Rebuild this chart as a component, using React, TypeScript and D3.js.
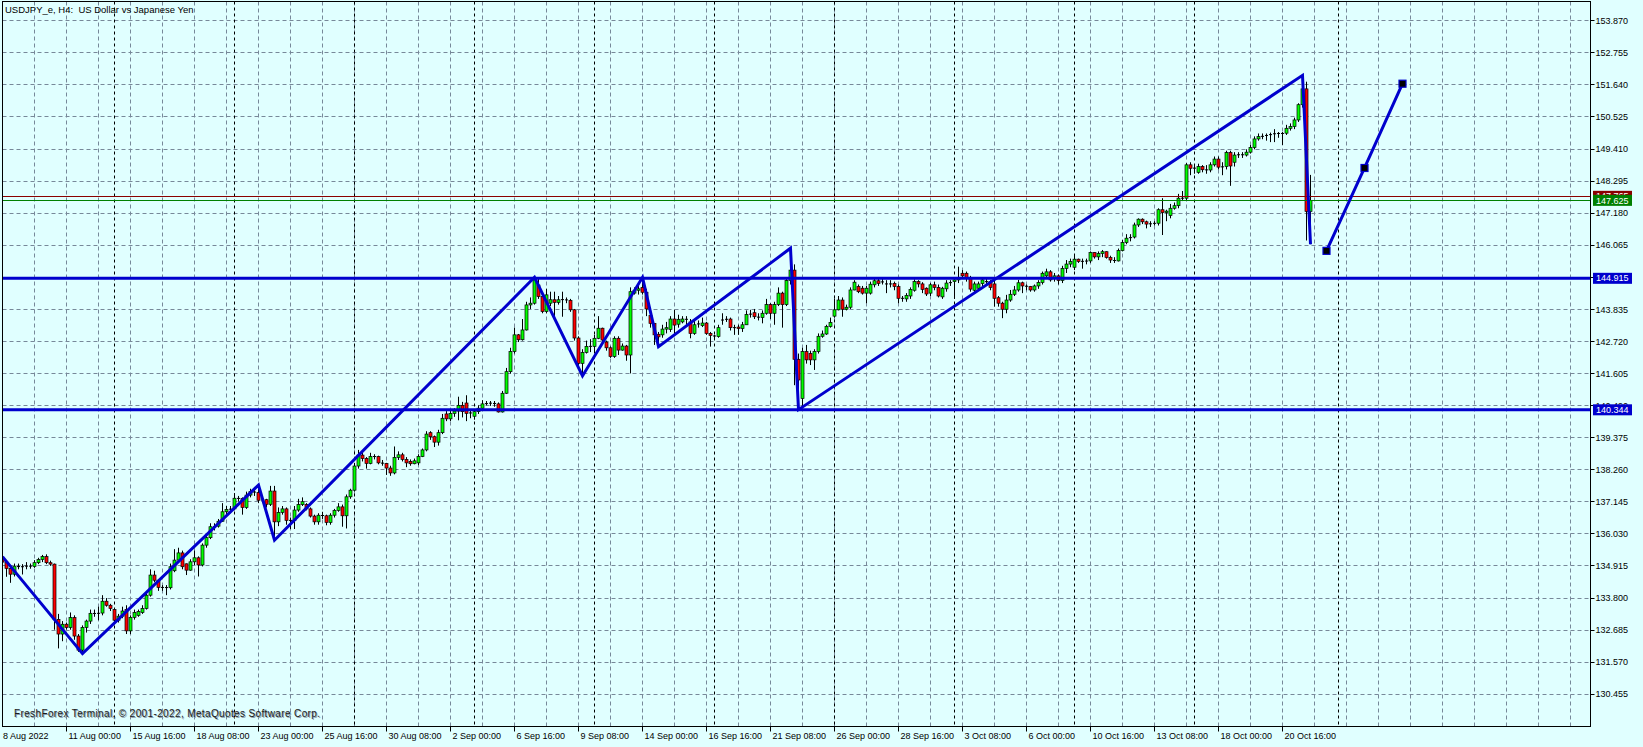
import * as d3 from 'd3';

const W = 1643;
const H = 747;

// USDJPY_e H4 candles, one array per trading week: [open, high, low, close]
const wk0808 = [
  [135.15, 135.24, 134.95, 135.05], [135.05, 135.12, 134.54, 134.83], [134.83, 134.92, 134.33, 134.63],
  [134.63, 135.0, 134.55, 134.91], [134.91, 135.0, 134.8, 134.88], [134.88, 134.98, 134.62, 134.9],
  [134.9, 135.05, 134.8, 134.92], [134.92, 135.0, 134.82, 134.9], [134.9, 135.12, 134.85, 135.03],
  [135.03, 135.2, 134.98, 135.14], [135.14, 135.3, 135.05, 135.24], [135.24, 135.32, 134.98, 135.03],
  [135.03, 135.1, 134.92, 134.98], [134.98, 135.0, 132.7, 133.06], [133.06, 133.25, 132.05, 132.55],
  [132.55, 133.0, 132.3, 132.89], [132.89, 132.95, 132.7, 132.78], [132.78, 133.3, 132.7, 133.12],
  [133.12, 133.2, 132.35, 132.48], [132.48, 132.55, 131.93, 131.99], [131.99, 132.85, 131.87, 132.78],
  [132.78, 133.05, 132.6, 133.0], [133.0, 133.4, 132.9, 133.27], [133.27, 133.4, 133.15, 133.26],
  [133.26, 133.5, 133.03, 133.28], [133.28, 133.9, 133.2, 133.69], [133.69, 133.8, 133.5, 133.55],
  [133.55, 133.6, 133.35, 133.44],
];
const wk0815 = [
  [133.4, 133.45, 132.95, 133.03], [133.03, 133.25, 132.95, 133.17], [133.17, 133.5, 133.1, 133.35],
  [133.4, 133.55, 132.55, 132.66], [132.66, 133.2, 132.55, 133.13], [133.13, 133.4, 133.05, 133.3],
  [133.2, 133.4, 133.15, 133.33], [133.3, 133.55, 133.25, 133.44], [133.44, 134.0, 133.4, 133.9],
  [133.9, 134.8, 133.85, 134.6], [134.6, 134.75, 134.35, 134.42], [134.42, 134.45, 134.05, 134.17],
  [134.17, 134.25, 134.05, 134.17], [134.17, 134.25, 133.9, 134.16], [134.16, 135.0, 134.1, 134.89],
  [134.75, 135.5, 134.7, 135.12], [135.12, 135.55, 135.05, 135.37], [135.37, 135.45, 134.8, 134.89],
  [134.99, 135.0, 134.6, 134.77], [134.77, 135.15, 134.75, 135.06], [135.06, 135.45, 134.95, 135.2],
  [135.2, 135.25, 134.55, 134.95], [134.95, 135.7, 134.9, 135.64], [135.64, 136.0, 135.55, 135.9],
  [135.9, 136.4, 135.85, 136.28], [136.28, 136.4, 136.15, 136.3], [136.3, 136.55, 136.25, 136.47],
  [136.47, 137.1, 136.45, 136.8], [136.8, 137.0, 136.7, 136.88], [136.88, 137.0, 136.75, 136.9],
];
const wk0822 = [
  [136.9, 137.45, 136.85, 137.27], [137.27, 137.35, 137.15, 137.26], [137.26, 137.3, 136.7, 136.95],
  [136.95, 137.5, 136.9, 137.38], [137.38, 137.6, 137.3, 137.5], [137.5, 137.6, 137.35, 137.47],
  [137.47, 137.73, 137.1, 137.2], [137.2, 137.35, 137.1, 137.22], [137.22, 137.25, 136.95, 137.06],
  [137.06, 137.7, 137.0, 137.52], [137.52, 137.7, 135.81, 136.45], [136.45, 136.95, 136.3, 136.78],
  [136.78, 137.0, 136.7, 136.9], [136.9, 136.95, 136.35, 136.5], [136.5, 136.6, 136.2, 136.5],
  [136.5, 137.0, 136.2, 136.86], [136.86, 137.25, 136.8, 137.05], [137.05, 137.3, 137.0, 137.15],
  [137.05, 137.1, 136.85, 136.9], [136.9, 136.95, 136.6, 136.65], [136.65, 136.7, 136.35, 136.45],
  [136.45, 136.75, 136.35, 136.68], [136.68, 136.8, 136.55, 136.66], [136.66, 136.7, 136.33, 136.43],
  [136.43, 136.75, 136.35, 136.68], [136.68, 136.9, 136.6, 136.85], [136.85, 137.1, 136.8, 136.97],
  [136.97, 137.05, 136.28, 136.66], [136.66, 137.4, 136.22, 137.32], [137.32, 137.6, 137.25, 137.55],
];
const wk0829 = [
  [137.55, 138.5, 137.5, 138.39], [138.39, 138.95, 138.3, 138.77], [138.77, 138.92, 138.55, 138.65],
  [138.65, 138.7, 138.3, 138.48], [138.48, 138.85, 138.45, 138.72], [138.72, 138.8, 138.62, 138.72],
  [138.72, 138.75, 138.45, 138.5], [138.5, 138.6, 138.4, 138.48], [138.48, 138.5, 138.08, 138.32],
  [138.32, 138.4, 138.05, 138.15], [138.15, 139.07, 138.1, 138.69], [138.69, 138.9, 138.6, 138.78],
  [138.78, 138.85, 138.55, 138.62], [138.62, 138.7, 138.35, 138.5], [138.55, 138.62, 138.4, 138.47],
  [138.47, 138.65, 138.45, 138.57], [138.5, 138.8, 138.42, 138.72], [138.72, 139.0, 138.7, 138.95],
  [138.95, 139.6, 138.9, 139.5], [139.55, 139.6, 139.3, 139.41], [139.41, 139.45, 139.05, 139.22],
  [139.22, 139.65, 139.1, 139.55], [139.55, 140.2, 139.5, 140.05], [140.2, 140.3, 139.95, 140.03],
  [140.03, 140.3, 139.95, 140.22], [140.22, 140.4, 140.1, 140.3], [140.3, 140.8, 139.98, 140.5],
  [140.5, 140.62, 140.08, 140.28], [140.58, 140.85, 139.95, 140.22], [140.22, 140.35, 140.05, 140.25],
];
const wk0905 = [
  [140.12, 140.35, 140.0, 140.28], [140.28, 140.5, 140.2, 140.4], [140.4, 140.68, 140.38, 140.55],
  [140.55, 140.65, 140.5, 140.57], [140.57, 140.65, 140.48, 140.58], [140.58, 140.65, 140.45, 140.55],
  [140.55, 140.6, 140.25, 140.27], [140.27, 141.0, 140.25, 140.92], [140.92, 141.8, 140.9, 141.67],
  [141.67, 142.5, 141.6, 142.37], [142.37, 143.2, 142.3, 142.95], [142.95, 142.98, 142.7, 142.78],
  [142.78, 143.5, 142.75, 143.12], [143.12, 144.1, 143.1, 143.99], [143.99, 144.25, 143.85, 144.05],
  [144.05, 144.95, 144.0, 144.86], [144.68, 144.9, 144.2, 144.28], [144.28, 144.3, 143.7, 143.76],
  [143.76, 144.55, 143.7, 144.34], [144.05, 144.45, 143.95, 144.17], [144.17, 144.45, 143.6, 144.08],
  [144.08, 144.3, 144.0, 144.17], [144.17, 144.45, 143.58, 144.18], [144.18, 144.25, 144.05, 144.15],
  [144.15, 144.2, 143.75, 143.82], [143.82, 143.85, 142.75, 142.84], [142.84, 142.9, 141.85, 141.96],
  [141.96, 142.45, 141.52, 142.34], [142.34, 142.75, 142.3, 142.55], [142.55, 142.8, 142.35, 142.55],
];
const wk0912 = [
  [142.55, 142.95, 142.3, 142.83], [142.83, 143.6, 142.8, 143.18], [143.18, 143.2, 142.7, 142.77],
  [142.7, 142.75, 142.4, 142.5], [142.5, 142.55, 142.15, 142.2], [142.2, 142.9, 142.15, 142.83],
  [142.83, 142.9, 142.25, 142.42], [142.42, 142.65, 142.4, 142.56], [142.56, 142.6, 142.05, 142.25],
  [142.25, 144.6, 141.61, 144.45], [144.4, 144.6, 144.35, 144.5], [144.5, 144.75, 144.35, 144.55],
  [144.6, 144.95, 144.35, 144.43], [144.43, 144.55, 143.6, 143.85], [143.62, 143.62, 143.2, 143.35],
  [143.35, 143.35, 142.6, 142.95], [142.97, 143.05, 142.54, 142.88], [142.95, 143.3, 142.85, 143.15],
  [143.15, 143.4, 143.0, 143.2], [143.14, 143.6, 143.05, 143.5], [143.5, 143.82, 143.0, 143.29],
  [143.32, 143.65, 143.2, 143.49], [143.4, 143.6, 143.35, 143.5], [143.49, 143.6, 143.3, 143.49],
  [143.4, 143.5, 142.83, 143.0], [143.0, 143.45, 142.95, 143.3], [143.33, 143.45, 143.2, 143.33],
  [143.27, 143.55, 143.22, 143.36], [143.36, 143.4, 142.95, 143.0], [143.0, 143.05, 142.54, 142.93],
];
const wk0919 = [
  [142.93, 142.95, 142.8, 142.89], [142.89, 143.3, 142.85, 143.2], [143.45, 143.7, 143.3, 143.48],
  [143.48, 143.6, 143.4, 143.5], [143.5, 143.55, 143.1, 143.2], [143.2, 143.3, 142.95, 143.2],
  [143.22, 143.3, 142.95, 143.17], [143.17, 143.4, 143.05, 143.3], [143.3, 143.8, 143.3, 143.66],
  [143.66, 143.82, 143.55, 143.68], [143.72, 143.85, 143.5, 143.58], [143.58, 143.7, 143.45, 143.55],
  [143.55, 143.8, 143.35, 143.7], [143.7, 144.2, 143.65, 144.0], [144.0, 144.05, 143.5, 143.7],
  [143.7, 144.1, 143.3, 144.0], [144.0, 144.6, 143.95, 144.4], [144.4, 144.45, 143.2, 144.0],
  [144.0, 144.95, 143.95, 144.84], [144.84, 145.96, 144.7, 145.2], [145.2, 145.4, 141.2, 142.1],
  [142.1, 142.3, 140.35, 141.38], [140.74, 142.5, 140.45, 142.37], [142.37, 142.6, 141.95, 142.08],
  [142.3, 142.4, 141.9, 142.08], [142.08, 142.45, 141.73, 142.37], [142.37, 143.0, 142.3, 142.9],
  [142.9, 143.1, 142.85, 142.98], [142.98, 143.3, 142.95, 143.24], [143.24, 143.55, 143.2, 143.38],
];
const wk0926 = [
  [143.6, 144.2, 143.55, 143.82], [143.82, 144.3, 143.8, 144.16], [144.16, 144.25, 143.58, 143.84],
  [143.84, 144.0, 143.8, 143.91], [143.91, 144.6, 143.85, 144.51], [144.51, 144.85, 144.5, 144.78],
  [144.63, 144.7, 144.4, 144.45], [144.57, 144.65, 144.35, 144.4], [144.4, 144.65, 144.05, 144.57],
  [144.4, 144.8, 144.35, 144.71], [144.69, 144.9, 144.6, 144.83], [144.83, 144.9, 144.65, 144.74],
  [144.78, 144.9, 144.7, 144.8], [144.72, 144.85, 144.4, 144.72], [144.72, 144.85, 144.6, 144.72],
  [144.74, 144.8, 144.5, 144.63], [144.63, 144.7, 144.05, 144.22], [144.22, 144.3, 144.1, 144.22],
  [144.2, 144.4, 144.1, 144.32], [144.3, 144.6, 144.2, 144.53], [144.5, 144.88, 144.45, 144.8],
  [144.8, 144.85, 144.6, 144.72], [144.72, 144.78, 144.4, 144.53], [144.57, 144.6, 144.3, 144.37],
  [144.4, 144.75, 144.3, 144.69], [144.69, 144.8, 144.5, 144.6], [144.6, 144.7, 144.25, 144.3],
  [144.27, 144.62, 144.2, 144.57], [144.55, 144.85, 144.45, 144.75], [144.75, 144.85, 144.65, 144.78],
];
const wk1003 = [
  [144.8, 144.95, 144.2, 144.86], [144.86, 145.32, 144.75, 144.92], [145.09, 145.2, 144.9, 145.0],
  [145.09, 145.15, 144.8, 144.92], [144.9, 145.0, 144.45, 144.54], [144.5, 144.8, 144.4, 144.72],
  [144.57, 144.8, 144.5, 144.72], [144.73, 144.9, 144.65, 144.86], [144.8, 144.9, 144.7, 144.8],
  [144.8, 144.85, 144.5, 144.6], [144.72, 144.9, 143.93, 144.22], [144.24, 144.3, 143.93, 144.05],
  [144.05, 144.1, 143.53, 143.84], [143.84, 144.34, 143.7, 144.16], [144.16, 144.51, 144.1, 144.36],
  [144.36, 144.65, 144.3, 144.51], [144.51, 144.86, 144.45, 144.76], [144.76, 144.8, 144.4, 144.65],
  [144.65, 144.7, 144.5, 144.63], [144.63, 144.65, 144.45, 144.51], [144.51, 144.7, 144.45, 144.65],
  [144.65, 144.85, 144.55, 144.77], [144.77, 145.15, 144.7, 145.09], [145.0, 145.25, 144.95, 145.14],
  [145.14, 145.2, 144.8, 144.86], [144.92, 145.1, 144.8, 145.0], [145.0, 145.05, 144.7, 144.84],
  [144.84, 145.35, 144.75, 145.26], [145.26, 145.55, 145.1, 145.41], [145.41, 145.6, 145.3, 145.5],
];
const wk1010 = [
  [145.3, 145.72, 145.2, 145.58], [145.58, 145.6, 145.45, 145.5], [145.5, 145.6, 145.25, 145.51],
  [145.51, 145.6, 145.4, 145.52], [145.52, 145.85, 145.45, 145.81], [145.81, 145.82, 145.6, 145.66],
  [145.66, 145.85, 145.55, 145.78], [145.78, 145.9, 145.65, 145.84], [145.84, 145.85, 145.6, 145.64],
  [145.64, 145.7, 145.45, 145.55], [145.55, 145.65, 145.45, 145.52], [145.52, 145.95, 145.5, 145.88],
  [145.88, 146.25, 145.85, 146.16], [146.16, 146.45, 146.1, 146.31], [146.31, 146.45, 146.2, 146.35],
  [146.35, 146.85, 146.3, 146.77], [146.77, 147.0, 146.7, 146.97], [146.97, 147.0, 146.8, 146.88],
  [146.88, 146.92, 146.65, 146.8], [146.8, 146.9, 146.7, 146.82], [146.82, 146.9, 146.75, 146.83],
  [146.83, 147.35, 146.75, 147.3], [147.3, 147.7, 146.42, 147.2], [147.2, 147.3, 146.9, 147.25],
  [147.1, 147.5, 147.0, 147.35], [147.35, 147.55, 147.3, 147.44], [147.44, 147.85, 147.35, 147.7],
  [147.7, 147.95, 147.6, 147.7], [147.7, 148.92, 147.6, 148.86], [148.86, 148.95, 148.5, 148.74],
];
const wk1017 = [
  [148.74, 148.85, 148.55, 148.75], [148.6, 148.9, 148.55, 148.8], [148.8, 148.85, 148.6, 148.69],
  [148.69, 148.85, 148.55, 148.68], [148.68, 148.95, 148.6, 148.86], [148.86, 149.15, 148.8, 149.06],
  [149.06, 149.15, 148.7, 148.78], [148.78, 148.95, 148.5, 148.8], [148.8, 149.35, 148.7, 149.29],
  [149.29, 149.35, 148.13, 148.82], [148.95, 149.3, 148.8, 149.2], [149.2, 149.3, 149.1, 149.22],
  [149.22, 149.3, 149.1, 149.2], [149.2, 149.4, 149.15, 149.3], [149.3, 149.55, 149.25, 149.46],
  [149.46, 149.85, 149.4, 149.76], [149.76, 149.95, 149.7, 149.84], [149.84, 149.95, 149.75, 149.86],
  [149.86, 149.95, 149.7, 149.9], [149.9, 149.98, 149.65, 149.92], [149.92, 150.1, 149.65, 149.96],
  [149.96, 150.0, 149.8, 149.94], [149.94, 150.0, 149.55, 149.96], [149.96, 150.25, 149.9, 150.13],
  [150.13, 150.3, 150.05, 150.19], [150.19, 150.5, 150.1, 150.42], [150.42, 151.0, 150.35, 150.95],
  [150.95, 151.97, 150.85, 151.5], [151.5, 151.75, 146.23, 147.24], [147.24, 148.51, 146.1, 147.625],
];

// zigzag vertices and projected points: [bar index, price]
const zigzag: [number, number][] = [
  [0, 135.24], [20, 131.87], [64, 137.73], [68, 135.81], [133, 144.95], [145, 141.52],
  [160, 144.95], [164, 142.54], [197, 145.96], [199, 140.35], [325, 151.97], [327, 146.1],
];
const projection: [number, number][] = [[331, 145.87], [340.5, 148.75], [350, 151.68]];

const levels = [144.915, 140.344];
const bid = 147.625;
const ask = 147.765;

const priceTicks = [
  153.87, 152.755, 151.64, 150.525, 149.41, 148.295, 147.18, 146.065, 144.95, 143.835, 142.72,
  141.605, 140.49, 139.375, 138.26, 137.145, 136.03, 134.915, 133.8, 132.685, 131.57, 130.455,
];

const dateLabels: [number, string][] = [
  [0, '8 Aug 2022'], [16, '11 Aug 00:00'], [32, '15 Aug 16:00'], [48, '18 Aug 08:00'],
  [64, '23 Aug 00:00'], [80, '25 Aug 16:00'], [96, '30 Aug 08:00'], [112, '2 Sep 00:00'],
  [128, '6 Sep 16:00'], [144, '9 Sep 08:00'], [160, '14 Sep 00:00'], [176, '16 Sep 16:00'],
  [192, '21 Sep 08:00'], [208, '26 Sep 00:00'], [224, '28 Sep 16:00'], [240, '3 Oct 08:00'],
  [256, '6 Oct 00:00'], [272, '10 Oct 16:00'], [288, '13 Oct 08:00'], [304, '18 Oct 00:00'],
  [320, '20 Oct 16:00'],
];

// week separators (bar index of Monday 00:00)
const separators = [28, 58, 88, 118, 148, 178, 208, 238, 268, 298, 334];

const BG = '#E0FFFF';
const GRID = '#778899';
const BLUE = '#0000CD';
const FONT = "'Liberation Sans', Arial, sans-serif";

const L = 2.5;
const T = 1.5;
const R = 1590.5;
const B = 726.5;

export default function App() {
  const candles = [
    ...wk0808, ...wk0815, ...wk0822, ...wk0829, ...wk0905, ...wk0912,
    ...wk0919, ...wk0926, ...wk1003, ...wk1010, ...wk1017,
  ].map((d, i) => ({ i, o: d[0], h: d[1], l: d[2], c: d[3] }));

  const x = d3.scaleLinear().domain([0, 1]).range([2.5, 6.5]);
  const y = d3.scaleLinear().domain([130.455, 153.87]).range([694.3, 20.7]);
  const py = (p: number) => Math.round(y(p) - 0.5) + 0.5;

  const line = d3
    .line<[number, number]>()
    .x((d) => x(d[0]))
    .y((d) => y(d[1]));

  const vGrid = d3.range(8, 400, 8).filter((i) => x(i) < R);

  const labelBox = (p: number, fill: string, key: string) => (
    <g key={key}>
      <rect x={1593} y={y(p) - 5.5} width={39} height={11} fill={fill} />
      <text x={1596} y={y(p)} dy="0.35em" fill="#fff" fontSize={9} fontFamily={FONT}>
        {p.toFixed(3)}
      </text>
    </g>
  );

  return (
    <div style={{ position: 'fixed', left: 0, top: 0, width: W, height: H, background: BG }}>
      <svg width={W} height={H} style={{ display: 'block' }}>
        <defs>
          <clipPath id="plot">
            <rect x={3} y={2} width={R - 3.5} height={B - 2.5} />
          </clipPath>
        </defs>
        <rect width={W} height={H} fill={BG} />

        <g clipPath="url(#plot)">
          {priceTicks.map((p) => (
            <line key={p} x1={L} x2={R} y1={py(p)} y2={py(p)} stroke={GRID} strokeDasharray="4,3" />
          ))}
          {vGrid.map((i) => (
            <line key={i} x1={x(i)} x2={x(i)} y1={T} y2={B} stroke={GRID} strokeDasharray="4,3" />
          ))}
          {separators.map((i) => (
            <line key={'s' + i} x1={x(i)} x2={x(i)} y1={T} y2={B} stroke="#000" strokeDasharray="3,3" />
          ))}

          {candles.map((d) => {
            const cx = x(d.i);
            const top = y(Math.max(d.o, d.c));
            const bot = y(Math.min(d.o, d.c));
            const up = d.c >= d.o;
            return (
              <g key={d.i}>
                <line x1={cx} x2={cx} y1={y(d.h)} y2={y(d.l)} stroke="#000" />
                {bot - top < 1.2 ? (
                  <line x1={cx - 1.5} x2={cx + 1.5} y1={(top + bot) / 2} y2={(top + bot) / 2} stroke="#000" />
                ) : (
                  <rect
                    x={cx - 1.5}
                    y={top}
                    width={3}
                    height={bot - top}
                    fill={up ? '#00FF00' : '#FF0000'}
                    stroke="#000"
                    strokeWidth={0.7}
                  />
                )}
              </g>
            );
          })}

          {levels.map((p) => (
            <line key={'lv' + p} x1={L} x2={R} y1={y(p)} y2={y(p)} stroke={BLUE} strokeWidth={3} />
          ))}
          <line x1={L} x2={R} y1={py(ask)} y2={py(ask)} stroke="#8B0000" />
          <line x1={L} x2={R} y1={py(bid)} y2={py(bid)} stroke="#008000" />

          <path d={line(zigzag) ?? ''} fill="none" stroke={BLUE} strokeWidth={3} />
          <path d={line(projection) ?? ''} fill="none" stroke={BLUE} strokeWidth={3} />
          {projection.map((d) => (
            <rect
              key={'pp' + d[0]}
              x={x(d[0]) - 3.5}
              y={y(d[1]) - 3.5}
              width={7}
              height={7}
              fill="#000"
              stroke={BLUE}
              strokeWidth={1.2}
            />
          ))}
        </g>

        <rect x={L} y={T} width={R - L} height={B - T} fill="none" stroke="#000" />

        {/* price axis */}
        {priceTicks.map((p) => (
          <g key={'pt' + p}>
            <line x1={R} x2={R + 4} y1={py(p)} y2={py(p)} stroke="#000" />
            <text x={1595.5} y={y(p)} dy="0.35em" fontSize={9} fontFamily={FONT} fill="#000">
              {p.toFixed(3)}
            </text>
          </g>
        ))}
        {labelBox(ask, '#8B0000', 'ask')}
        {labelBox(bid, '#008000', 'bid')}
        {levels.map((p) => labelBox(p, BLUE, 'lb' + p))}

        {/* time axis */}
        {dateLabels.map(([i, s]) => (
          <g key={'dl' + i}>
            {i > 0 && <line x1={x(i)} x2={x(i)} y1={B} y2={B + 5} stroke="#000" />}
            <text x={i > 0 ? x(i) + 2 : 3} y={739} fontSize={9} fontFamily={FONT} fill="#000">
              {s}
            </text>
          </g>
        ))}

        <text x={5} y={13} fontSize={9.5} fontFamily={FONT} fill="#000" style={{ whiteSpace: 'pre' }}>
          {'USDJPY_e, H4:  US Dollar vs Japanese Yen'}
        </text>

        <text x={15} y={718} fontSize={10} fontFamily={FONT} fill="#8a9aaa" textLength={306}>
          FreshForex Terminal, © 2001-2022, MetaQuotes Software Corp.
        </text>
        <text x={14} y={717} fontSize={10} fontFamily={FONT} fill="#1a1a1a" textLength={306}>
          FreshForex Terminal, © 2001-2022, MetaQuotes Software Corp.
        </text>
      </svg>
    </div>
  );
}
